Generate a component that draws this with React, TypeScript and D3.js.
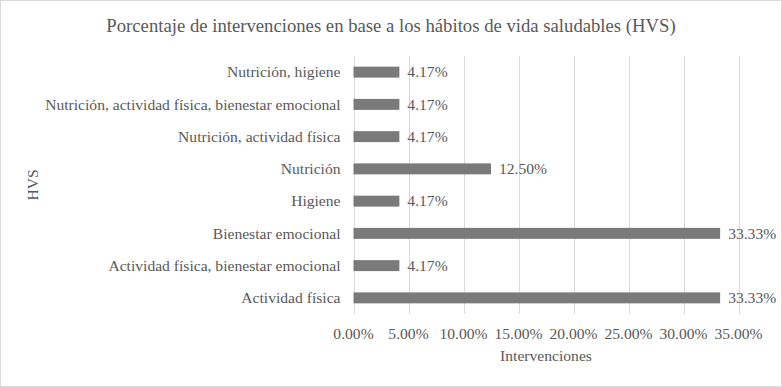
import { useEffect, useRef } from "react";
import * as d3 from "d3";

const categories = [
  "Nutrición, higiene",
  "Nutrición, actividad física, bienestar emocional",
  "Nutrición, actividad física",
  "Nutrición",
  "Higiene",
  "Bienestar emocional",
  "Actividad física, bienestar emocional",
  "Actividad física",
];
const values = [4.17, 4.17, 4.17, 12.5, 4.17, 33.33, 4.17, 33.33];
const xTicks = [0, 5, 10, 15, 20, 25, 30, 35];

const W = 782;
const H = 387;
const FONT = "Liberation Serif, Times New Roman, Times, serif";
const TEXT = "#595959";
const FS = 15.6;

export default function App() {
  const svgRef = useRef<SVGSVGElement>(null);

  useEffect(() => {
    if (!svgRef.current) return;
    document.body.style.margin = "0";
    const svg = d3.select(svgRef.current);
    svg.selectAll("*").remove();

    const m = { left: 353.5, right: 738.5, top: 56, bottom: 314 };

    const x = d3.scaleLinear().domain([0, 35]).range([m.left, m.right]);
    const y = d3.scaleBand().domain(categories).range([m.top, m.bottom]).paddingInner(0.66).paddingOuter(0.33);

    // background + border
    svg.append("rect")
      .attr("x", 0.5).attr("y", 0.5)
      .attr("width", W - 1).attr("height", H - 1)
      .attr("fill", "#fff").attr("stroke", "#d9d9d9");

    const txt = (sel: d3.Selection<any, any, any, any>, size: number) =>
      sel.attr("font-family", FONT).attr("font-size", size).attr("fill", TEXT);

    // title
    txt(svg.append("text"), 18.7)
      .attr("x", 391).attr("y", 32)
      .attr("text-anchor", "middle")
      .text("Porcentaje de intervenciones en base a los hábitos de vida saludables (HVS)");

    // gridlines
    svg.append("g")
      .selectAll("line")
      .data(xTicks)
      .join("line")
      .attr("x1", (d) => Math.round(x(d)) + 0.5).attr("x2", (d) => Math.round(x(d)) + 0.5)
      .attr("y1", m.top).attr("y2", m.bottom)
      .attr("stroke", "#d9d9d9").attr("stroke-width", 1);

    // tick labels
    txt(svg.append("g"), FS)
      .selectAll("text")
      .data(xTicks)
      .join("text")
      .attr("x", (d) => x(d)).attr("y", 339)
      .attr("text-anchor", "middle")
      .text((d) => `${d.toFixed(2)}%`);

    // category labels
    txt(svg.append("g"), FS)
      .selectAll("text")
      .data(categories)
      .join("text")
      .attr("x", m.left - 13).attr("y", (d) => y(d)! + y.bandwidth() / 2)
      .attr("dy", "0.33em")
      .attr("text-anchor", "end")
      .text((d) => d);

    // bars
    svg.append("g")
      .selectAll("rect")
      .data(values)
      .join("rect")
      .attr("x", x(0))
      .attr("y", (_, i) => y(categories[i])!)
      .attr("width", (d) => x(d) - x(0))
      .attr("height", y.bandwidth())
      .attr("fill", "#7a7a7a");

    // data labels
    txt(svg.append("g"), FS)
      .selectAll("text")
      .data(values)
      .join("text")
      .attr("x", (d) => x(d) + 8)
      .attr("y", (_, i) => y(categories[i])! + y.bandwidth() / 2)
      .attr("dy", "0.33em")
      .text((d) => `${d.toFixed(2)}%`);

    // axis titles
    txt(svg.append("text"), FS)
      .attr("x", (m.left + m.right) / 2).attr("y", 361)
      .attr("text-anchor", "middle")
      .text("Intervenciones");

    txt(svg.append("text"), FS)
      .attr("transform", `translate(38, ${(m.top + m.bottom) / 2}) rotate(-90)`)
      .attr("text-anchor", "middle")
      .text("HVS");
  }, []);

  return (
    <svg ref={svgRef} width={W} height={H} style={{ display: "block" }} />
  );
}
